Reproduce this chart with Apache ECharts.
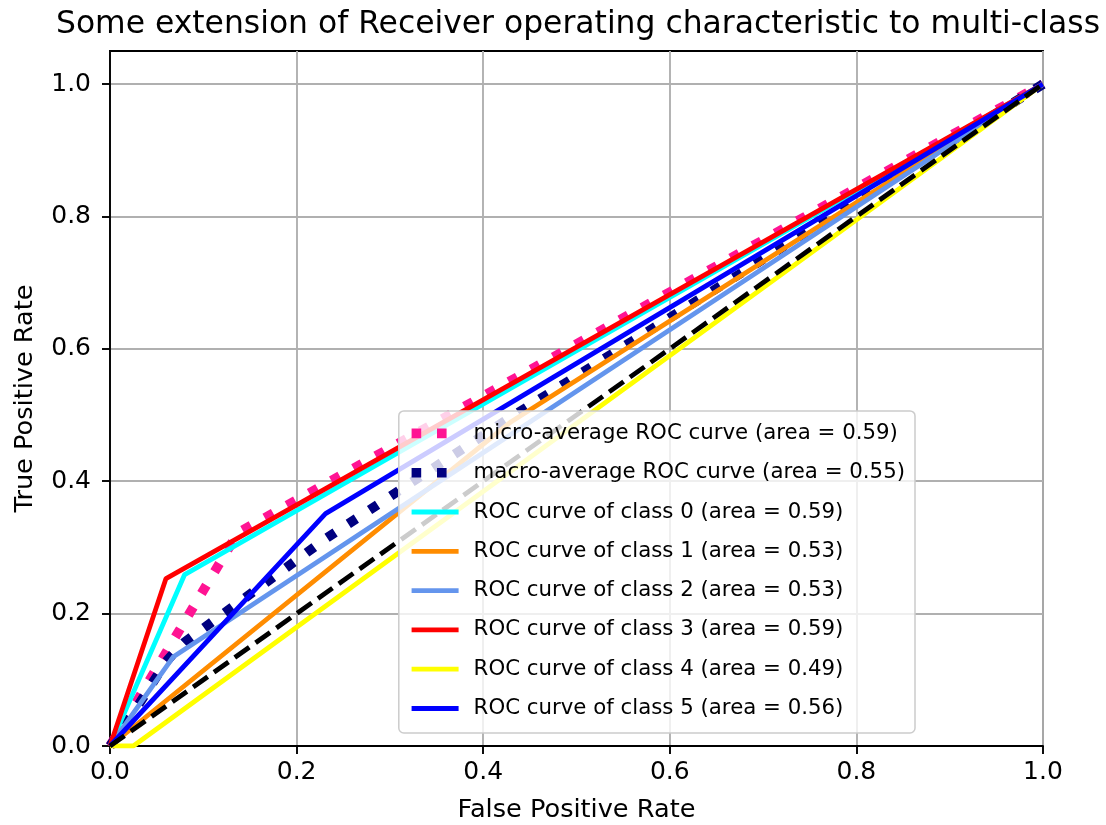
<!DOCTYPE html>
<html>
<head>
<meta charset="utf-8">
<script src="https://cdn.jsdelivr.net/npm/echarts@6/dist/echarts.min.js"></script>
<style>
  html, body { margin: 0; padding: 0; background: #fff; }
  #chart { width: 1106px; height: 825px; }
</style>
</head>
<body>
<div id="chart"></div>
<script>
// ROC points (fpr, tpr)
var microFpr = [0, 0.137, 1];
var microTpr = [0, 0.322, 1];
var macroFpr = [0, 0.025, 0.06, 0.068, 0.08, 0.231, 0.43, 1];
var macroTpr = [0, 0.050, 0.127, 0.140, 0.157, 0.313, 0.497, 1];
var classFpr = [
  [0, 0.08, 1],
  [0, 0.43, 1],
  [0, 0.068, 1],
  [0, 0.06, 1],
  [0, 0.025, 1],
  [0, 0.231, 1]
];
var classTpr = [
  [0, 0.259, 1],
  [0, 0.49, 1],
  [0, 0.135, 1],
  [0, 0.253, 1],
  [0, 0, 1],
  [0, 0.351, 1]
];
var classArea = ['0.59', '0.53', '0.53', '0.59', '0.49', '0.56'];
var classColors = ['#00ffff', '#ff8c00', '#6495ed', '#ff0000', '#ffff00', '#0000ff'];
var microArea = '0.59';
var macroArea = '0.55';
var diagX = [0, 1];
var diagY = [0, 1];
var xTicks = [0, 0.2, 0.4, 0.6, 0.8, 1.0];
var yTicks = [0, 0.2, 0.4, 0.6, 0.8, 1.0];

var FONT = 'DejaVu Sans';
var chart = echarts.init(document.getElementById('chart'), null, { renderer: 'canvas' });

function pairs(xs, ys) {
  return xs.map(function (x, i) { return [x, ys[i]]; });
}

var series = [];
var legendData = [];
var dotDash = [9.6, 15.8];

var microName = 'micro-average ROC curve (area = ' + microArea + ')';
series.push({
  name: microName, type: 'line', data: pairs(microFpr, microTpr),
  symbol: 'none', color: '#ff1493',
  lineStyle: { color: '#ff1493', width: 9.6, type: dotDash, cap: 'butt' }
});
legendData.push({ name: microName, itemStyle: { opacity: 0 }, lineStyle: { width: 9.6 } });

var macroName = 'macro-average ROC curve (area = ' + macroArea + ')';
series.push({
  name: macroName, type: 'line', data: pairs(macroFpr, macroTpr),
  symbol: 'none', color: '#000080',
  lineStyle: { color: '#000080', width: 9.6, type: dotDash, cap: 'butt' }
});
legendData.push({ name: macroName, itemStyle: { opacity: 0 }, lineStyle: { width: 9.6 } });

for (var i = 0; i < classFpr.length; i++) {
  var nm = 'ROC curve of class ' + i + ' (area = ' + classArea[i] + ')';
  series.push({
    name: nm, type: 'line', data: pairs(classFpr[i], classTpr[i]),
    symbol: 'none', color: classColors[i],
    lineStyle: { color: classColors[i], width: 4.8 }
  });
  legendData.push({ name: nm, itemStyle: { opacity: 0 }, lineStyle: { width: 4.8 } });
}

// chance line
series.push({
  name: 'chance', type: 'line', data: pairs(diagX, diagY),
  symbol: 'none', color: '#000',
  lineStyle: { color: '#000', width: 4.8, type: [17.8, 7.7], cap: 'butt' }
});

chart.setOption({
  animation: false,
  textStyle: { fontFamily: FONT },
  title: {
    text: 'Some extension of Receiver operating characteristic to multi-class',
    left: 573, top: 4, textAlign: 'center',
    textStyle: { fontFamily: FONT, fontSize: 31.4, fontWeight: 'normal', color: '#000' }
  },
  grid: {
    left: 110, right: 63, top: 51, bottom: 79,
    outerBoundsMode: 'none', containLabel: false,
    show: true, borderColor: '#000', borderWidth: 1.9, backgroundColor: 'transparent'
  },
  legend: {
    data: legendData,
    orient: 'vertical',
    right: 191, bottom: 92,
    padding: [10, 10, 12, 8],
    itemWidth: 47, itemHeight: 25, itemGap: 14.3,
    backgroundColor: 'rgba(255,255,255,0.8)',
    borderColor: '#cccccc', borderWidth: 1.5, borderRadius: 5,
    selectedMode: false,
    textStyle: { fontFamily: FONT, fontSize: 21.3, color: '#000', padding: [0, 0, 0, 10], lineHeight: 25 }
  },
  xAxis: {
    type: 'value', min: 0, max: 1, interval: 0.2,
    name: 'False Positive Rate', nameLocation: 'middle', nameGap: 51,
    nameTextStyle: { fontFamily: FONT, fontSize: 25.6, color: '#000' },
    axisLine: { show: true, lineStyle: { color: '#000', width: 1.9 } },
    axisTick: { show: true, length: 8, lineStyle: { color: '#000', width: 1.9 } },
    axisLabel: {
      fontFamily: FONT, fontSize: 25, color: '#000', margin: 14,
      customValues: xTicks,
      formatter: function (v) { return v.toFixed(1); }
    },
    splitLine: { show: true, lineStyle: { color: '#b0b0b0', width: 1.9 } }
  },
  yAxis: {
    type: 'value', min: 0, max: 1.05, interval: 0.2,
    name: 'True Positive Rate', nameLocation: 'middle', nameGap: 72,
    nameTextStyle: { fontFamily: FONT, fontSize: 25.6, color: '#000' },
    axisLine: { show: true, lineStyle: { color: '#000', width: 1.9 } },
    axisTick: { show: true, length: 8, customValues: yTicks, lineStyle: { color: '#000', width: 1.9 } },
    axisLabel: {
      fontFamily: FONT, fontSize: 25, color: '#000', margin: 19,
      customValues: yTicks,
      formatter: function (v) { return v > 1.001 ? '' : v.toFixed(1); }
    },
    splitLine: { show: true, lineStyle: { color: '#b0b0b0', width: 1.9 } }
  },
  series: series
});
</script>
</body>
</html>
